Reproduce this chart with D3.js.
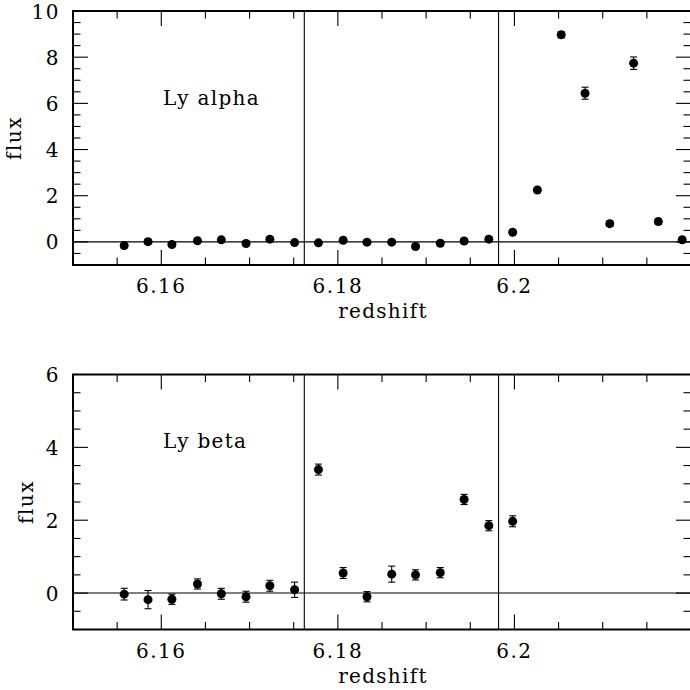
<!DOCTYPE html>
<html>
<head>
<meta charset="utf-8">
<script src="https://cdn.jsdelivr.net/npm/d3@7"></script>
<style>
  html, body { margin: 0; padding: 0; background: #fff; }
  svg { display: block; }
  text { font-family: "DejaVu Serif", serif; fill: #000; }
</style>
</head>
<body>
<svg id="chart" width="690" height="690"></svg>
<script>
// ---- data ----
const redshift = [6.1558, 6.1585, 6.1612, 6.1641, 6.1668, 6.1696, 6.1723, 6.1751,
                  6.1778, 6.1806, 6.1833, 6.1861, 6.1888, 6.1916, 6.1943, 6.1971,
                  6.1998, 6.2026, 6.2053, 6.2080, 6.2108, 6.2135, 6.2163, 6.2190];
const alphaFlux = [-0.16, 0.01, -0.11, 0.05, 0.09, -0.07, 0.12, -0.03,
                   -0.04, 0.07, -0.01, -0.01, -0.20, -0.06, 0.04, 0.12,
                   0.42, 2.25, 8.97, 6.44, 0.79, 7.74, 0.88, 0.09];
const alphaErr  = [0.10, 0.10, 0.10, 0.10, 0.10, 0.10, 0.10, 0.10,
                   0.10, 0.10, 0.10, 0.10, 0.10, 0.10, 0.10, 0.10,
                   0.10, 0.10, 0.13, 0.26, 0.12, 0.27, 0.12, 0.12];
const betaFlux  = [-0.03, -0.18, -0.17, 0.25, -0.02, -0.10, 0.20, 0.09,
                   3.39, 0.55, -0.10, 0.52, 0.50, 0.56, 2.57, 1.85, 1.97];
const betaErr   = [0.16, 0.25, 0.14, 0.14, 0.15, 0.15, 0.15, 0.21,
                   0.15, 0.15, 0.14, 0.22, 0.14, 0.14, 0.14, 0.14, 0.15];
const markerLines = [6.1762, 6.1982];
const xDomain = [6.15, 6.22];
const xMajorTicks = [6.16, 6.18, 6.20];
const xTickLabels = ["6.16", "6.18", "6.2"];
const alphaDomain = [-1, 10];
const alphaMajor = [0, 2, 4, 6, 8, 10];
const betaDomain = [-1, 6];
const betaMajor = [0, 2, 4, 6];
const panelNames = ["Ly alpha", "Ly beta"];

// ---- layout ----
const svg = d3.select("#chart");
const L = 73, R = 691;
const FS = 20;
const panels = [
  { top: 11,  bottom: 265, yDomain: alphaDomain, yMajor: alphaMajor, flux: alphaFlux, err: alphaErr, name: panelNames[0], nameY: 105, flabelX: 21 },
  { top: 374.5, bottom: 629.5, yDomain: betaDomain, yMajor: betaMajor, flux: betaFlux, err: betaErr, name: panelNames[1], nameY: 448, flabelX: 33 }
];
const x = d3.scaleLinear().domain(xDomain).range([L, R]);
const xMinor = d3.range(Math.round(xDomain[0] * 1000), Math.round(xDomain[1] * 1000) + 1, 5).map(v => v / 1000);
const MAJ = 15, MIN = 7.5;

panels.forEach(p => {
  const y = d3.scaleLinear().domain(p.yDomain).range([p.bottom, p.top]);
  const g = svg.append("g");
  const yMinor = d3.range(p.yDomain[0] * 2, p.yDomain[1] * 2 + 1).map(v => v / 2);
  const isMajorX = v => xMajorTicks.some(t => Math.abs(t - v) < 1e-6);
  const isMajorY = v => p.yMajor.includes(v);

  // reference lines
  g.append("line").attr("x1", L).attr("x2", R).attr("y1", y(0)).attr("y2", y(0))
    .attr("stroke", "#000").attr("stroke-width", 1.1);
  markerLines.forEach(m => {
    g.append("line").attr("x1", x(m)).attr("x2", x(m)).attr("y1", p.top).attr("y2", p.bottom)
      .attr("stroke", "#000").attr("stroke-width", 1.1);
  });

  // x ticks (bottom and top)
  xMinor.forEach(v => {
    const len = isMajorX(v) ? MAJ : MIN;
    g.append("line").attr("x1", x(v)).attr("x2", x(v)).attr("y1", p.bottom).attr("y2", p.bottom - len)
      .attr("stroke", "#000").attr("stroke-width", 1.1);
    g.append("line").attr("x1", x(v)).attr("x2", x(v)).attr("y1", p.top).attr("y2", p.top + len)
      .attr("stroke", "#000").attr("stroke-width", 1.1);
  });
  // y ticks (left and right)
  yMinor.forEach(v => {
    const len = isMajorY(v) ? MAJ : MIN;
    g.append("line").attr("x1", L).attr("x2", L + len).attr("y1", y(v)).attr("y2", y(v))
      .attr("stroke", "#000").attr("stroke-width", 1.1);
    g.append("line").attr("x1", R).attr("x2", R - len).attr("y1", y(v)).attr("y2", y(v))
      .attr("stroke", "#000").attr("stroke-width", 1.1);
  });

  // frame
  g.append("rect").attr("x", L).attr("y", p.top).attr("width", R - L).attr("height", p.bottom - p.top)
    .attr("fill", "none").attr("stroke", "#000").attr("stroke-width", 2);

  // x tick labels
  xMajorTicks.forEach((t, i) => {
    g.append("text").attr("x", x(t)).attr("y", p.bottom + 28).attr("text-anchor", "middle")
      .attr("font-size", FS).attr("letter-spacing", 1.5).text(xTickLabels[i]);
  });
  g.append("text").attr("x", 383).attr("y", p.bottom + 53).attr("text-anchor", "middle")
    .attr("font-size", FS).attr("letter-spacing", 1.3).text("redshift");

  // y tick labels
  p.yMajor.forEach(v => {
    g.append("text").attr("x", 60).attr("y", y(v) + 7.5).attr("text-anchor", "end")
      .attr("font-size", FS).attr("letter-spacing", 1.5).text(v);
  });
  g.append("text").attr("transform", `translate(${p.flabelX},${(p.top + p.bottom) / 2}) rotate(-90)`)
    .attr("text-anchor", "middle").attr("font-size", FS).attr("letter-spacing", 1.5).text("flux");

  // panel name
  g.append("text").attr("x", 163).attr("y", p.nameY)
    .attr("font-size", FS).attr("letter-spacing", 1.3).text(p.name);

  // data
  const pts = p.flux.map((f, i) => ({ z: redshift[i], f, e: p.err[i] }));
  const eb = g.append("g").attr("stroke", "#000").attr("stroke-width", 1.1);
  pts.forEach(d => {
    const cx = x(d.z);
    eb.append("line").attr("x1", cx).attr("x2", cx).attr("y1", y(d.f - d.e)).attr("y2", y(d.f + d.e));
    eb.append("line").attr("x1", cx - 3.5).attr("x2", cx + 3.5).attr("y1", y(d.f - d.e)).attr("y2", y(d.f - d.e));
    eb.append("line").attr("x1", cx - 3.5).attr("x2", cx + 3.5).attr("y1", y(d.f + d.e)).attr("y2", y(d.f + d.e));
  });
  g.append("g").selectAll("circle").data(pts).join("circle")
    .attr("cx", d => x(d.z)).attr("cy", d => y(d.f)).attr("r", 4.5).attr("fill", "#000");
});
</script>
</body>
</html>
